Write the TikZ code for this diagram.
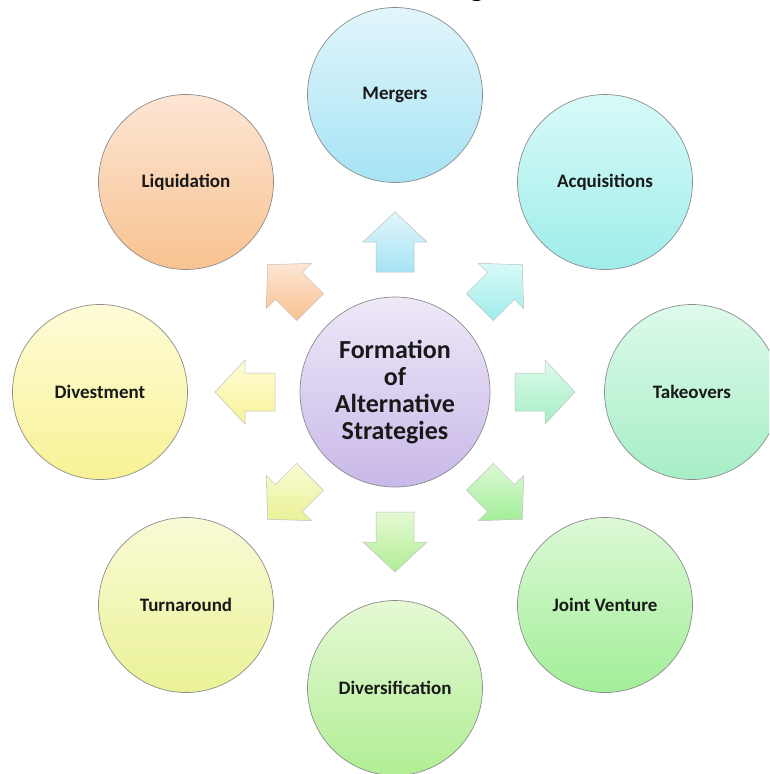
\documentclass[tikz,border=0pt]{standalone}
\usepackage{fontspec}
\setmainfont{Carlito}
\usetikzlibrary{calc}
\begin{document}
\begin{tikzpicture}[x=1pt,y=-1pt,
  bubble/.style={circle, draw=black!45, line width=0.7pt, minimum size=175pt, inner sep=0pt,
    font=\fontsize{19}{22}\selectfont\bfseries, text=black!90},
  hub/.style={circle, draw=black!45, line width=0.7pt, minimum size=190pt, inner sep=0pt,
    font=\fontsize{26}{27}\selectfont\bfseries, align=center, text=black!90},
  barrow/.style={draw=black!25, line width=0.5pt, line join=miter}
]
\useasboundingbox (0,0) rectangle (769,774);
\clip (0,0) rectangle (769,774);

\definecolor{mergT}{HTML}{E2F6FC}\definecolor{mergB}{HTML}{A6E3F4}
\definecolor{acqT}{HTML}{D8FAF8}\definecolor{acqB}{HTML}{9EEDEA}
\definecolor{takT}{HTML}{DDFAEA}\definecolor{takB}{HTML}{A6EEC6}
\definecolor{jvT}{HTML}{DCF9D6}\definecolor{jvB}{HTML}{A2EE98}
\definecolor{divT}{HTML}{E6F9D4}\definecolor{divB}{HTML}{B0EE94}
\definecolor{turT}{HTML}{FAFAD6}\definecolor{turB}{HTML}{EAF296}
\definecolor{dvsT}{HTML}{FEFCD8}\definecolor{dvsB}{HTML}{F8F294}
\definecolor{liqT}{HTML}{FDE6D4}\definecolor{liqB}{HTML}{F8C290}
\definecolor{hubT}{HTML}{EEE8F8}\definecolor{hubB}{HTML}{C8B8E8}

% clipped title descender
\node[anchor=base, inner sep=0pt, font=\fontsize{30}{30}\selectfont\bfseries] (ttl) at (477,-4) {g};

% hub
\node[hub, top color=hubT, bottom color=hubB] (hubc) at (395,392)
  {Formation\\of\\Alternative\\Strategies};

% outer bubbles
\node[bubble, top color=mergT, bottom color=mergB] (merg) at (395,95) {Mergers};
\node[bubble, top color=acqT, bottom color=acqB] (acq) at (605,182) {Acquisitions};
\node[bubble, top color=takT, bottom color=takB] (tak) at (692,392) {Takeovers};
\node[bubble, top color=jvT, bottom color=jvB] (jv) at (605,605) {Joint Venture};
\node[bubble, top color=divT, bottom color=divB] (divf) at (395,688) {Diversification};
\node[bubble, top color=turT, bottom color=turB] (turn) at (186,605) {Turnaround};
\node[bubble, top color=dvsT, bottom color=dvsB] (dvst) at (100,392) {Divestment};
\node[bubble, top color=liqT, bottom color=liqB] (liq) at (186,182) {Liquidation};

% block arrows (angles measured with y pointing down)
\foreach \ang/\ct/\cb in {-90/mergT/mergB, -45/acqT/acqB, 0/takT/takB, 45/jvT/jvB,
                          90/divT/divB, 135/turT/turB, 180/dvsT/dvsB, -135/liqT/liqB}{
  \path[barrow, top color=\ct, bottom color=\cb]
    ($(hubc.center)+(\ang:120)+(\ang+90:19)$) --
    ($(hubc.center)+(\ang:150)+(\ang+90:19)$) --
    ($(hubc.center)+(\ang:150)+(\ang+90:32)$) --
    ($(hubc.center)+(\ang:180)$) --
    ($(hubc.center)+(\ang:150)+(\ang-90:32)$) --
    ($(hubc.center)+(\ang:150)+(\ang-90:19)$) --
    ($(hubc.center)+(\ang:120)+(\ang-90:19)$) -- cycle;
}
\end{tikzpicture}
\end{document}
